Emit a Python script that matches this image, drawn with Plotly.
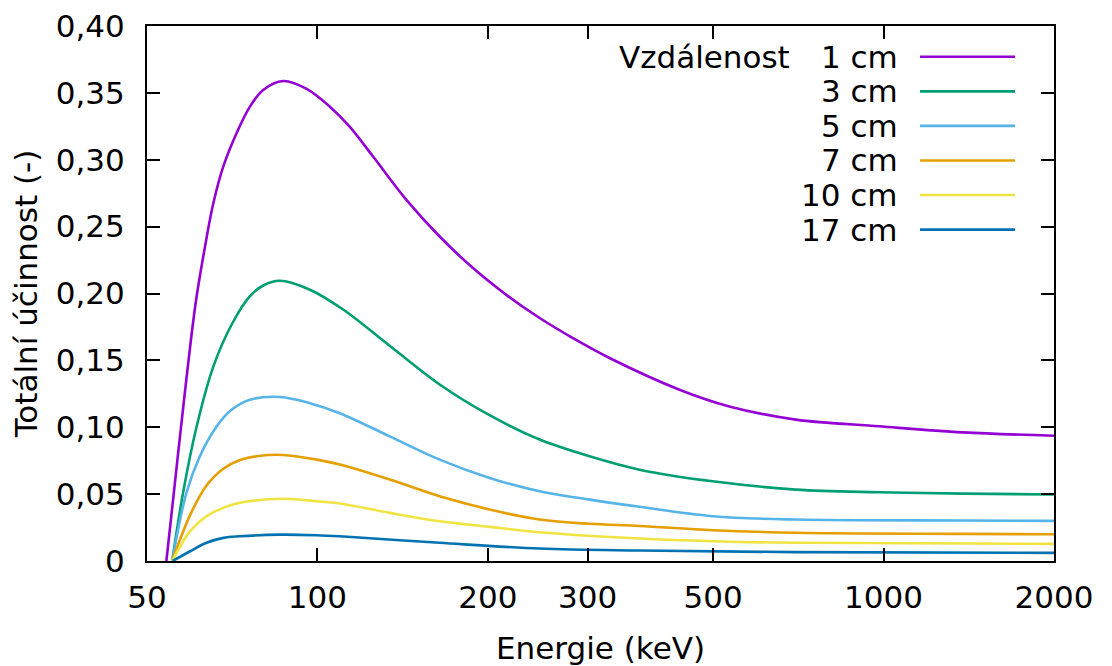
import plotly.graph_objects as go

# ---- data ----
labels = ["1 cm", "3 cm", "5 cm", "7 cm", "10 cm", "17 cm"]
colors = ["#9400d3", "#009e73", "#56b4e9", "#e69f00", "#f0e442", "#0072b2"]

e_1cm = [54.1, 56.0, 57.9, 60.9, 63.3, 65.5, 68.2, 72.0, 76.0, 80.2, 87.0, 95.7, 105.2, 114.0,
         125.4, 143.6, 164.4, 188.3, 215.6, 246.9, 282.6, 328, 436, 534, 700, 982, 1378, 2000]
y_1cm = [0, 0.058, 0.114, 0.192, 0.235, 0.2676, 0.295, 0.320, 0.3397, 0.3522, 0.3589, 0.3530, 0.3397,
         0.3248, 0.3024, 0.270, 0.2426, 0.219, 0.199, 0.1817, 0.1667, 0.1518, 0.1281, 0.1156,
         0.1057, 0.1007, 0.0962, 0.0937]

e_3cm = [55.4, 57.9, 61.2, 65.5, 70.6, 76.0, 80.2, 85.8, 97, 111, 135, 164.4, 201.4, 246.9, 302.4,
         370.6, 499, 700, 982, 1378, 2000]
y_3cm = [0, 0.051, 0.1007, 0.1455, 0.177, 0.198, 0.206, 0.2095, 0.2028, 0.188, 0.160, 0.132, 0.1090,
         0.0908, 0.0783, 0.0683, 0.0596, 0.0534, 0.0514, 0.0504, 0.0497]

e_5cm = [55.4, 58.7, 62.0, 66.4, 70.6, 76.0, 85.8, 97, 109.5, 134.2, 164.4, 201.4, 246.9, 302.4,
         370.6, 499, 700, 1378, 2000]
y_5cm = [0, 0.051, 0.0783, 0.1007, 0.1132, 0.1206, 0.1226, 0.1180, 0.1105, 0.0932, 0.0758, 0.0621,
         0.0521, 0.0459, 0.0405, 0.0335, 0.031, 0.0303, 0.030]

e_7cm = [55.4, 59.6, 63.7, 68.2, 73.0, 78.1, 87.0, 99.6, 109.5, 134.2, 164.4, 201.4, 246.9, 302.4,
         370.6, 499, 700, 1378, 2000]
y_7cm = [0, 0.0345, 0.0565, 0.0690, 0.0755, 0.0783, 0.0793, 0.0758, 0.0721, 0.0609, 0.0484, 0.0385,
         0.031, 0.0278, 0.0262, 0.023, 0.0211, 0.0203, 0.020]

e_10cm = [55.4, 59.6, 63.7, 68.2, 73.0, 87.0, 99.6, 109.5, 134.2, 164.4, 201.4, 246.9, 370.6, 499,
          700, 2000]
y_10cm = [0, 0.0223, 0.0335, 0.0397, 0.0435, 0.0465, 0.0447, 0.043, 0.036, 0.0297, 0.0255, 0.0215,
          0.0168, 0.0148, 0.0136, 0.0128]

e_17cm = [55.5, 59.6, 63.7, 68.2, 73.0, 85.8, 99.6, 109.5, 164.4, 246.9, 370.6, 700, 2000]
y_17cm = [0, 0.0073, 0.0136, 0.0173, 0.0185, 0.0197, 0.0193, 0.0185, 0.0136, 0.0093, 0.0078,
          0.0066, 0.0061]

x_ticks = [50, 100, 200, 300, 500, 1000, 2000]
y_ticks = [0, 0.05, 0.10, 0.15, 0.20, 0.25, 0.30, 0.35, 0.40]
y_ticktext = ["0", "0,05", "0,10", "0,15", "0,20", "0,25", "0,30", "0,35", "0,40"]

series = [(e_1cm, y_1cm), (e_3cm, y_3cm), (e_5cm, y_5cm), (e_7cm, y_7cm), (e_10cm, y_10cm), (e_17cm, y_17cm)]

FONT = "DejaVu Sans"
FS = 31

fig = go.Figure()
for (ex, ey), lab, col in zip(series, labels, colors):
    fig.add_trace(go.Scatter(x=ex, y=ey, mode="lines", name=lab, showlegend=False,
                             line=dict(color=col, width=2.6, shape="spline", smoothing=1.0)))

# legend drawn gnuplot-style: right-justified text, sample line to the right
row0 = 0.9425  # paper y of first row
drow = 34.6 / 535.5
for i, (lab, col) in enumerate(zip(labels, colors)):
    yy = row0 - i * drow
    fig.add_annotation(xref="paper", yref="paper", x=(900 - 147) / 907, y=yy, text=lab,
                       showarrow=False, xanchor="right", yanchor="middle",
                       font=dict(family=FONT, size=FS, color="black"))
    fig.add_shape(type="line", xref="paper", yref="paper",
                  x0=(920 - 147) / 907, x1=(1015 - 147) / 907, y0=yy, y1=yy,
                  line=dict(color=col, width=2.6))
fig.add_annotation(xref="paper", yref="paper", x=(792 - 147) / 907, y=row0, text="Vzdálenost",
                   showarrow=False, xanchor="right", yanchor="middle",
                   font=dict(family=FONT, size=FS, color="black"))

axis_common = dict(showline=True, linecolor="black", linewidth=2, mirror="ticks",
                   ticks="inside", ticklen=13, tickwidth=1.5, tickcolor="black",
                   showgrid=False, zeroline=False, automargin=False,
                   tickfont=dict(family=FONT, size=FS, color="black"))

fig.update_xaxes(type="log", range=[1.69897, 3.30103], tickvals=x_ticks,
                 ticktext=[str(v) for v in x_ticks], ticklabelstandoff=8,
                 title=dict(text="Energie (keV)", font=dict(family=FONT, size=FS, color="black"), standoff=29),
                 **axis_common)
fig.update_yaxes(range=[0, 0.4], tickvals=y_ticks, ticktext=y_ticktext, ticklabelstandoff=14,
                 title=dict(text="Totální účinnost (-)", font=dict(family=FONT, size=FS, color="black"), standoff=9),
                 **axis_common)

fig.update_layout(width=1112, height=666, plot_bgcolor="white", paper_bgcolor="white",
                  margin=dict(l=147, r=58, t=26, b=105), font=dict(family=FONT, size=FS, color="black"))

fig.write_html("out.html")
